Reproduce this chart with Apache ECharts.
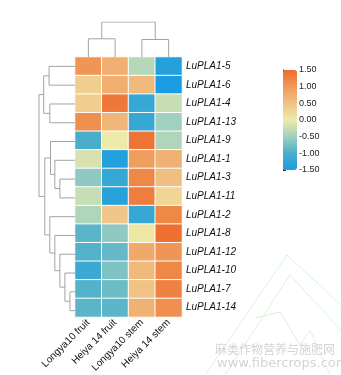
<!DOCTYPE html>
<html>
<head>
<meta charset="utf-8">
<script src="https://cdn.jsdelivr.net/npm/echarts@6/dist/echarts.min.js"></script>
<style>html,body{margin:0;padding:0;background:#fff;}#c{width:341px;height:375px;}</style>
</head>
<body>
<div id="c"></div>
<script>
// ---- data ----
var columns = ['Longya10 fruit', 'Heiya 14 fruit', 'Longya10 stem', 'Heiya 14 stem'];
var genes = ['LuPLA1-5','LuPLA1-6','LuPLA1-4','LuPLA1-13','LuPLA1-9','LuPLA1-1','LuPLA1-3',
             'LuPLA1-11','LuPLA1-2','LuPLA1-8','LuPLA1-12','LuPLA1-10','LuPLA1-7','LuPLA1-14'];
var longya10Fruit = [1.05, 0.35, 0.35, 1.10, -1.00, -0.15, -0.60, -0.25, -0.40, -0.90, -0.95, -1.15, -0.95, -0.90];
var heiya14Fruit  = [0.75, 0.75, 1.35, 0.65, 0.00, -1.40, -1.20, -1.35, 0.45, -0.60, -0.85, -0.70, -0.80, -0.90];
var longya10Stem  = [-0.35, 0.60, -1.20, -1.20, 1.40, 0.95, 1.20, 1.30, -1.20, 0.05, 0.80, 0.60, 0.50, 0.70];
var heiya14Stem   = [-1.40, -1.50, -0.25, -0.50, -0.40, 0.70, 0.55, 0.25, 1.20, 1.45, 1.05, 1.20, 1.25, 1.10];
var legendTicks = [-1.5, -1.0, -0.5, 0, 0.5, 1.0, 1.5];
// dendrograms: [height, left, right]; leaf = index
var colTree = [1.0, [0.52, 0, 1], [0.50, 2, 3]];
var rowTree = [1.0,
  [0.87, [0.72, 0, 1], [0.70, 2, 3]],
  [0.84, [0.68, 4, [0.56, 5, [0.42, 6, 7]]],
         [0.70, 8, [0.56, 9, [0.42, 10, [0.28, 11, [0.14, 12, 13]]]]]]];

// ---- build ----
var colSeries = [longya10Fruit, heiya14Fruit, longya10Stem, heiya14Stem];
var heat = [];
colSeries.forEach(function (arr, c) {
  arr.forEach(function (v, r) { heat.push([c, r, v]); });
});
function layout(node, segs, swap) {
  if (typeof node === 'number') return { p: node + 0.5, h: 0 };
  var a = layout(node[1], segs, swap), b = layout(node[2], segs, swap), h = node[0];
  var pts = [[a.p, a.h], [a.p, h], [b.p, h], [b.p, b.h]];
  if (swap) pts = pts.map(function (q) { return [q[1], q[0]]; });
  segs.push({ coords: pts });
  return { p: (a.p + b.p) / 2, h: h };
}
var colSegs = [], rowSegs = [];
layout(colTree, colSegs, false);
layout(rowTree, rowSegs, true);

var FONT = "'Liberation Sans', Arial, sans-serif";
var GL = 75, GT = 57, GW = 107, GH = 263;
var chart = echarts.init(document.getElementById('c'), null, { renderer: 'canvas' });
chart.setOption({
  backgroundColor: '#fff',
  animation: false,
  grid: [
    { left: GL, top: GT, width: GW, height: GH },
    { left: 39, top: GT, width: GL - 39, height: GH },
    { left: GL, top: 22, width: GW, height: GT - 22 },
    { left: 283, top: 70, width: 14, height: 100 }
  ],
  xAxis: [
    { gridIndex: 0, type: 'category', data: columns, position: 'bottom',
      axisLine: { show: false }, axisTick: { show: false }, splitLine: { show: false },
      axisLabel: { rotate: 45, fontSize: 10, color: '#111', fontFamily: FONT, margin: 4, interval: 0 } },
    { gridIndex: 1, type: 'value', min: 0, max: 1, inverse: true, show: false },
    { gridIndex: 2, type: 'value', min: 0, max: 4, show: false },
    { gridIndex: 3, type: 'value', show: false }
  ],
  yAxis: [
    { gridIndex: 0, type: 'category', data: genes, inverse: true, position: 'right',
      axisLine: { show: false }, axisTick: { show: false }, splitLine: { show: false },
      axisLabel: { fontSize: 10, fontStyle: 'italic', color: '#111', fontFamily: FONT, margin: 4, interval: 0 } },
    { gridIndex: 1, type: 'value', min: 0, max: genes.length, inverse: true, show: false },
    { gridIndex: 2, type: 'value', min: 0, max: 1, show: false },
    { gridIndex: 3, type: 'value', min: legendTicks[0], max: legendTicks[legendTicks.length - 1], interval: 0.5,
      position: 'right',
      axisLine: { show: true, lineStyle: { color: '#333', width: 1 } },
      axisTick: { show: true, length: 3, lineStyle: { color: '#333' } },
      splitLine: { show: false },
      axisLabel: { fontSize: 9, color: '#222', fontFamily: FONT, margin: 2,
        formatter: function (v) { return v.toFixed(2); } } }
  ],
  visualMap: {
    type: 'continuous', min: -1.5, max: 1.5, calculable: false, seriesIndex: 0,
    left: 283, top: 70, itemWidth: 14, itemHeight: 100, padding: 0, text: null, showLabel: false,
    inRange: { color: ['#1a9de2', '#4aaecb', '#a0d0bf', '#eeeaa9', '#f0c285', '#ef9a5a', '#ee6a2b'] }
  },
  series: [
    { type: 'heatmap', xAxisIndex: 0, yAxisIndex: 0, data: heat,
      itemStyle: { borderColor: '#fff', borderWidth: 1 }, emphasis: { disabled: true } },
    { type: 'lines', coordinateSystem: 'cartesian2d', xAxisIndex: 1, yAxisIndex: 1, polyline: true,
      data: rowSegs, silent: true, lineStyle: { color: '#a3a3a3', width: 1, opacity: 1 } },
    { type: 'lines', coordinateSystem: 'cartesian2d', xAxisIndex: 2, yAxisIndex: 2, polyline: true,
      data: colSegs, silent: true, lineStyle: { color: '#a3a3a3', width: 1, opacity: 1 } }
  ],
  graphic: [
    { type: 'polyline', silent: true, z: -1, shape: { points: [[205,375],[287,255],[341,305]] }, style: { fill: null, stroke: '#d6f6d6', lineWidth: 1 } },
    { type: 'polyline', silent: true, z: -1, shape: { points: [[225,375],[290,275],[341,330]] }, style: { fill: null, stroke: '#d6f6d6', lineWidth: 1 } },
    { type: 'polyline', silent: true, z: -1, shape: { points: [[255,318],[280,312],[300,345],[310,330],[330,375]] }, style: { fill: null, stroke: '#d6f6d6', lineWidth: 1 } },
    { type: 'text', silent: true, left: 215, top: 343, style: { text: '麻类作物营养与施肥网', fontSize: 12, fill: '#d4d4d4', fontFamily: 'Noto Sans CJK SC' } },
    { type: 'text', silent: true, left: 217, top: 357, style: { text: 'www.fibercrops.com', fontSize: 13, fill: '#d4d4d4', fontFamily: "'DejaVu Sans', sans-serif" } }
  ]
});
</script>
</body>
</html>
